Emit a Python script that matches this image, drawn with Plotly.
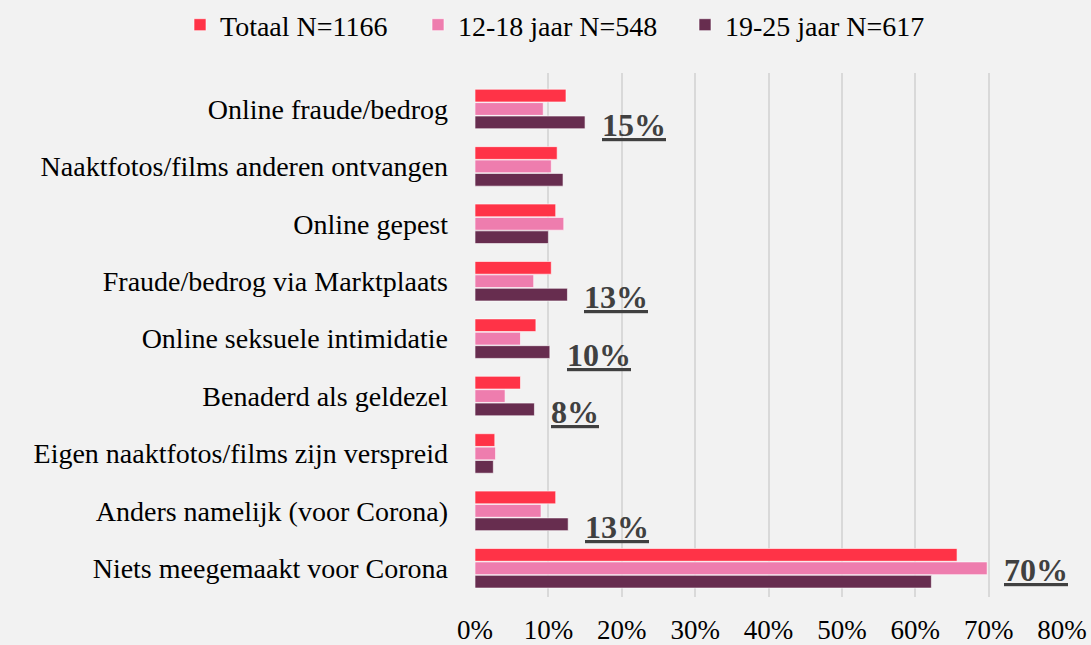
import plotly.graph_objects as go

categories = [
    "Online fraude/bedrog",
    "Naaktfotos/films anderen ontvangen",
    "Online gepest",
    "Fraude/bedrog via Marktplaats",
    "Online seksuele intimidatie",
    "Benaderd als geldezel",
    "Eigen naaktfotos/films zijn verspreid",
    "Anders namelijk (voor Corona)",
    "Niets meegemaakt voor Corona",
]
totaal = [12.4, 11.2, 11.0, 10.4, 8.3, 6.2, 2.7, 11.0, 65.7]
jong = [9.3, 10.4, 12.1, 8.0, 6.2, 4.1, 2.8, 9.0, 69.8]
oud = [15.0, 12.0, 10.0, 12.6, 10.2, 8.1, 2.5, 12.7, 62.2]

series_names = ["Totaal N=1166", "12-18 jaar N=548", "19-25 jaar N=617"]
colors = ["#FF3347", "#EE7DAE", "#672D4F"]

# highlighted labels: (category index, series index, label)
highlights = [(0, 2, "15%"), (3, 2, "13%"), (4, 2, "10%"), (5, 2, "8%"),
              (7, 2, "13%"), (8, 1, "70%")]

font_family = "Liberation Serif"
all_series = [totaal, jong, oud]
legend_ids = ["legend", "legend2", "legend3"]
legend_x = [180, 418, 685]

fig = go.Figure()
for name, vals, col, lid in zip(series_names, all_series, colors, legend_ids):
    fig.add_trace(go.Bar(
        y=categories, x=vals, name=name, orientation="h", legend=lid,
        marker=dict(color=col, line=dict(color="rgba(255,255,255,0.6)", width=1)),
    ))

shifts = {0: 14, 1: -2, 2: -16}
for ci, si, lab in highlights:
    fig.add_annotation(
        x=all_series[si][ci], y=categories[ci],
        text="<b><u>" + lab + "</u></b>",
        showarrow=False, xanchor="left", xshift=15, yshift=shifts[si],
        font=dict(family=font_family, size=32, color="#404040"),
    )

legends = {}
for lid, lx in zip(legend_ids, legend_x):
    legends[lid] = dict(
        orientation="h", xref="container", x=lx / 1091, xanchor="left",
        yref="container", y=1.0, yanchor="top", bgcolor="rgba(0,0,0,0)",
        borderwidth=0, font=dict(family=font_family, size=28),
    )

fig.update_layout(
    width=1091, height=645,
    paper_bgcolor="#F2F2F2", plot_bgcolor="#F2F2F2",
    margin=dict(l=475, r=29, t=73, b=48, autoexpand=False),
    barmode="group", bargap=0.3, bargroupgap=0.05,
    font=dict(family=font_family, size=28, color="#000000"),
    showlegend=True,
    **legends,
)
fig.update_xaxes(range=[0, 80], dtick=10, ticksuffix="%", showgrid=True,
                 gridcolor="#D9D9D9", gridwidth=2, zeroline=False,
                 ticklabelstandoff=14, tickfont=dict(family=font_family, size=27))
fig.update_yaxes(autorange="reversed", ticklabelstandoff=26,
                 tickfont=dict(family=font_family, size=28))

fig.write_html("out.html", config={"displayModeBar": False},
               post_script="document.body.style.margin='0';")
